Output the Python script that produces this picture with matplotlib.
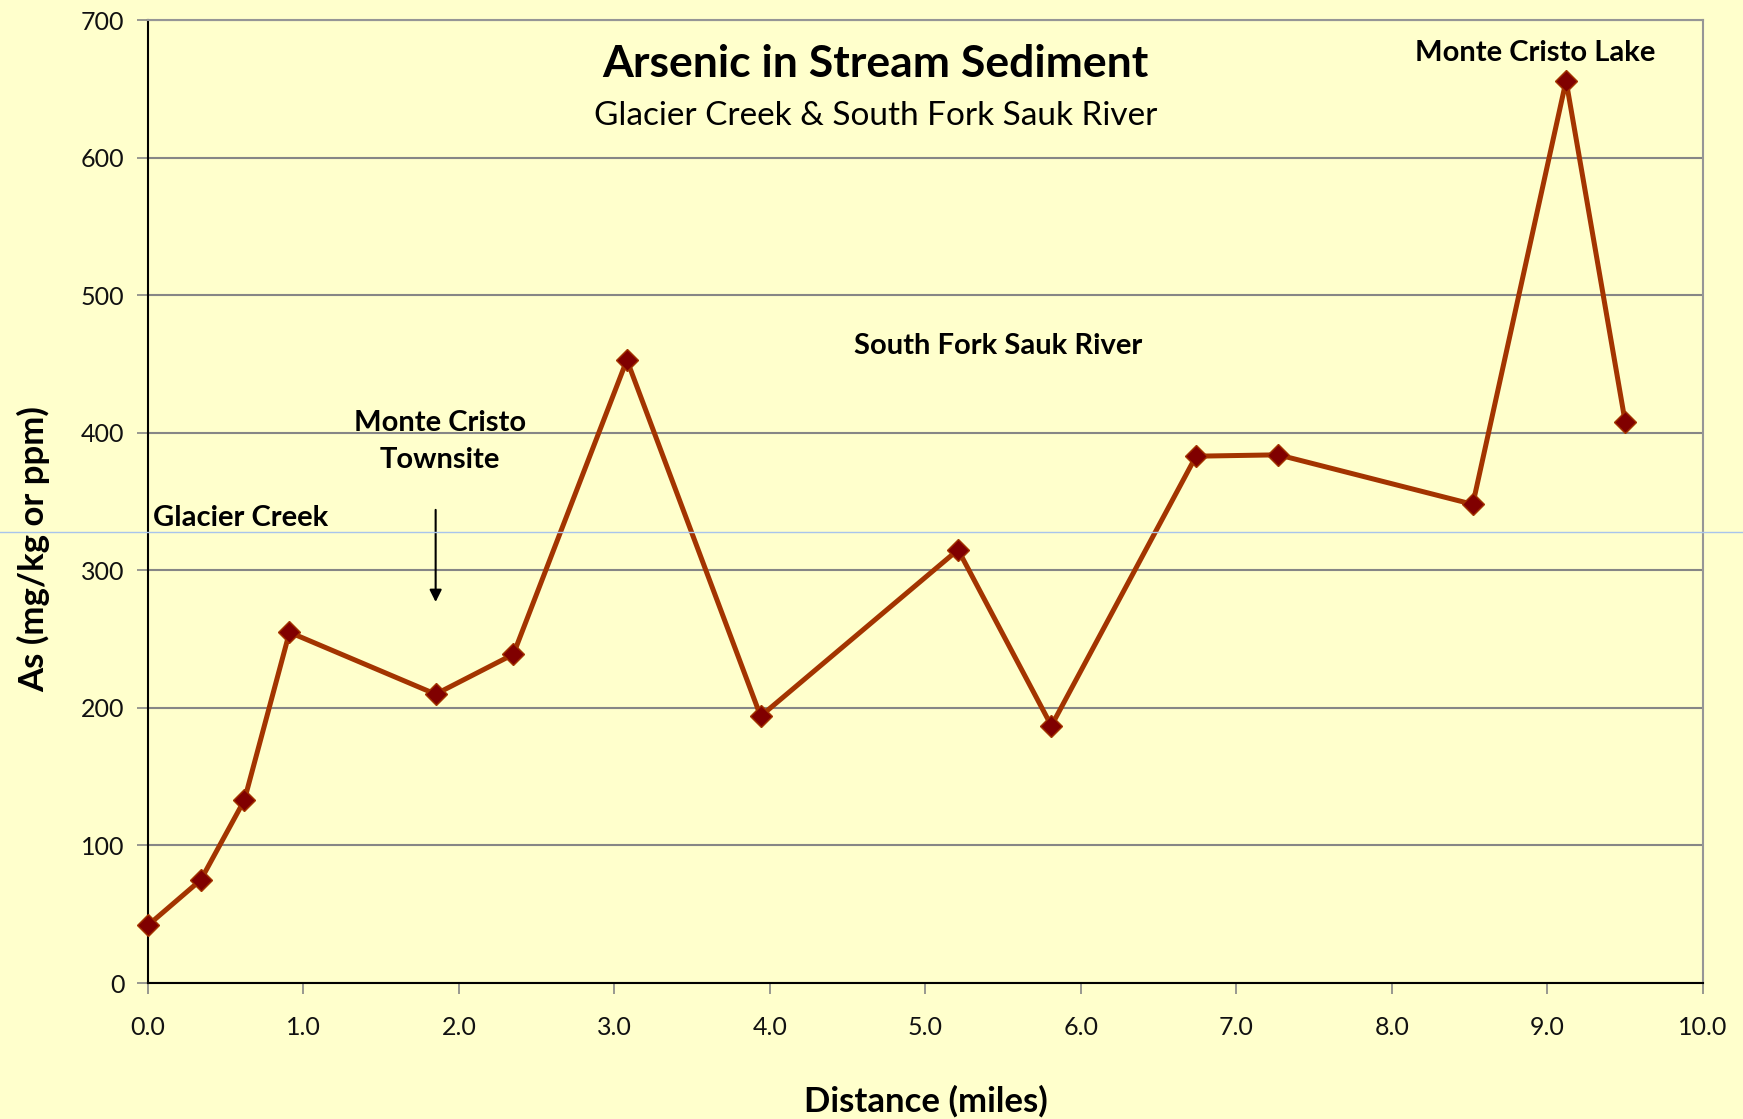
import matplotlib
matplotlib.use("Agg")
import matplotlib.pyplot as plt
from matplotlib.lines import Line2D

distance = [0.0, 0.34, 0.62, 0.91, 1.85, 2.35, 3.08, 3.94, 5.21, 5.81, 6.74, 7.27, 8.52, 9.12, 9.50]
arsenic = [42, 75, 133, 255, 210, 239, 453, 194, 315, 187, 383, 384, 348, 656, 408]
xticks = [0, 1, 2, 3, 4, 5, 6, 7, 8, 9, 10]
yticks = [0, 100, 200, 300, 400, 500, 600, 700]

plt.rcParams['font.family'] = ['Lato', 'DejaVu Sans']
bg = '#FFFFCC'
fig = plt.figure(figsize=(17.43, 11.19), dpi=100, facecolor=bg)
ax = fig.add_axes([0.0849, 0.1215, 0.977 - 0.0849, 0.982 - 0.1215])
ax.set_facecolor(bg)

ax.plot(distance, arsenic, color='#A33400', lw=3.6, marker='D', ms=11,
        markerfacecolor='#800000', markeredgecolor='#A33400', markeredgewidth=1, zorder=3, clip_on=False)

ax.set_xlim(0, 10)
ax.set_ylim(0, 700)
ax.set_xticks(xticks)
ax.set_xticklabels([f"{v:.1f}" for v in xticks])
ax.set_yticks(yticks)
ax.grid(axis='y', color='#868686', lw=1.5, zorder=0)
ax.tick_params(axis='both', direction='out', color='#868686', length=8, width=1.2, labelsize=18, labelcolor='#111111')
ax.tick_params(axis='x', pad=16)
ax.tick_params(axis='y', pad=9)
for s in ['left', 'bottom']:
    ax.spines[s].set_color('black')
    ax.spines[s].set_linewidth(1.5)
for s in ['right', 'top']:
    ax.spines[s].set_color('#969696')
    ax.spines[s].set_linewidth(1.5)

ax.set_xlabel('Distance (miles)', fontsize=25, fontweight='bold', labelpad=33)
ax.set_ylabel('As (mg/kg or ppm)', fontsize=25, fontweight='bold')
ax.yaxis.set_label_coords(-0.063, 0.451)

ax.text(4.68, 668, 'Arsenic in Stream Sediment', fontsize=32, fontweight='bold', ha='center', va='center')
ax.text(4.68, 630, 'Glacier Creek & South Fork Sauk River', fontsize=24, ha='center', va='center')
ax.text(8.92, 676, 'Monte Cristo Lake', fontsize=21, fontweight='bold', ha='center', va='center')
ax.text(5.465, 463, 'South Fork Sauk River', fontsize=21, fontweight='bold', ha='center', va='center')
ax.text(1.88, 407, 'Monte Cristo', fontsize=21, fontweight='bold', ha='center', va='center')
ax.text(1.88, 380, 'Townsite', fontsize=21, fontweight='bold', ha='center', va='center')
ax.text(0.03, 338, 'Glacier Creek', fontsize=21, fontweight='bold', ha='left', va='center')
ax.annotate('', xy=(1.85, 275), xytext=(1.85, 346),
            arrowprops=dict(arrowstyle='-|>', color='black', lw=1.5, mutation_scale=18))

# faint horizontal slide line
fig.add_artist(Line2D([0, 1], [1 - 532 / 1119] * 2, color='#A8C4EC', lw=1.0, transform=fig.transFigure))

fig.savefig('out.png', dpi=100, facecolor=bg)
